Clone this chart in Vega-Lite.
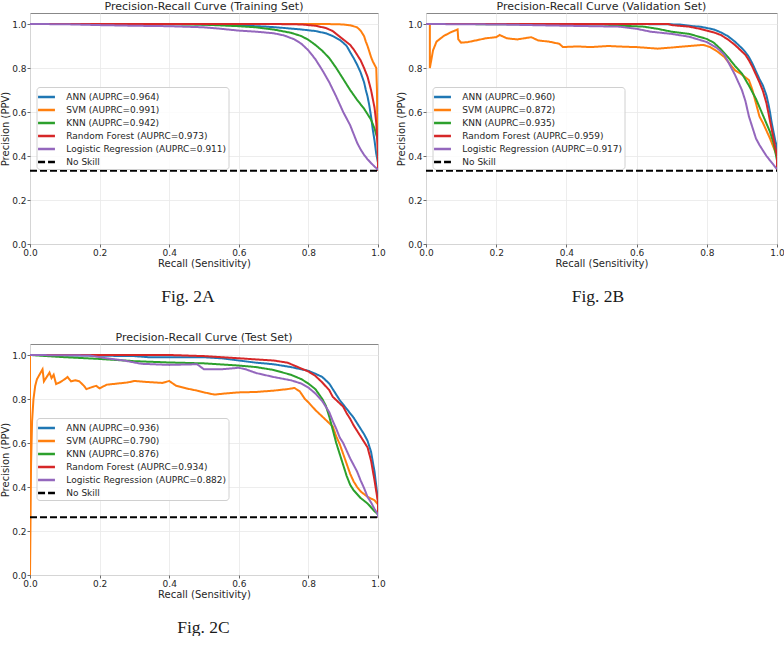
{
  "$schema": "https://vega.github.io/schema/vega-lite/v6.json",
  "background": "white",
  "padding": {"left": 0, "top": 0, "right": 0, "bottom": 0},
  "config": {
    "font": "DejaVu Sans",
    "view": {"stroke": "#888888", "strokeWidth": 1},
    "axis": {
      "domain": false, "grid": true, "gridColor": "#e8e8e8", "gridWidth": 0.8,
      "tickColor": "#444444", "tickSize": 3, "tickWidth": 0.8,
      "labelFont": "DejaVu Sans", "labelFontSize": 9, "labelColor": "#262626", "labelPadding": 1,
      "titleFont": "DejaVu Sans", "titleFontSize": 10, "titleFontWeight": "normal", "titleColor": "#262626", "titlePadding": 1,
      "labelFlush": false, "labelOverlap": false
    },
    "title": {"font": "DejaVu Sans", "fontSize": 11, "fontWeight": "normal", "color": "#262626", "offset": 1},
    "legend": {
      "orient": "none", "legendX": 6.5, "legendY": 74,
      "symbolType": "M-1.3,0H1.3", "symbolSize": 169, "symbolStrokeWidth": 2.5,
      "labelFont": "DejaVu Sans", "labelFontSize": 9, "labelColor": "#262626", "labelOffset": 11.8, "labelLimit": 300,
      "rowPadding": 0, "padding": 2, "strokeColor": "#d0d0d0", "fillColor": "rgba(255,255,255,0.8)", "cornerRadius": 3
    }
  },
  "datasets": {
    "training": [
      {"model": "ANN (AUPRC=0.964)", "recall": 0, "precision": 1},
      {"model": "ANN (AUPRC=0.964)", "recall": 0.3, "precision": 1},
      {"model": "ANN (AUPRC=0.964)", "recall": 0.45, "precision": 0.999},
      {"model": "ANN (AUPRC=0.964)", "recall": 0.55, "precision": 0.996},
      {"model": "ANN (AUPRC=0.964)", "recall": 0.62, "precision": 0.992},
      {"model": "ANN (AUPRC=0.964)", "recall": 0.68, "precision": 0.988},
      {"model": "ANN (AUPRC=0.964)", "recall": 0.73, "precision": 0.982},
      {"model": "ANN (AUPRC=0.964)", "recall": 0.78, "precision": 0.975},
      {"model": "ANN (AUPRC=0.964)", "recall": 0.82, "precision": 0.968},
      {"model": "ANN (AUPRC=0.964)", "recall": 0.85, "precision": 0.958},
      {"model": "ANN (AUPRC=0.964)", "recall": 0.87, "precision": 0.945},
      {"model": "ANN (AUPRC=0.964)", "recall": 0.89, "precision": 0.928},
      {"model": "ANN (AUPRC=0.964)", "recall": 0.9, "precision": 0.915},
      {"model": "ANN (AUPRC=0.964)", "recall": 0.91, "precision": 0.9},
      {"model": "ANN (AUPRC=0.964)", "recall": 0.92, "precision": 0.872},
      {"model": "ANN (AUPRC=0.964)", "recall": 0.93, "precision": 0.845},
      {"model": "ANN (AUPRC=0.964)", "recall": 0.94, "precision": 0.815},
      {"model": "ANN (AUPRC=0.964)", "recall": 0.95, "precision": 0.78},
      {"model": "ANN (AUPRC=0.964)", "recall": 0.96, "precision": 0.735},
      {"model": "ANN (AUPRC=0.964)", "recall": 0.965, "precision": 0.7},
      {"model": "ANN (AUPRC=0.964)", "recall": 0.97, "precision": 0.67},
      {"model": "ANN (AUPRC=0.964)", "recall": 0.975, "precision": 0.63},
      {"model": "ANN (AUPRC=0.964)", "recall": 0.98, "precision": 0.58},
      {"model": "ANN (AUPRC=0.964)", "recall": 0.985, "precision": 0.52},
      {"model": "ANN (AUPRC=0.964)", "recall": 0.99, "precision": 0.47},
      {"model": "ANN (AUPRC=0.964)", "recall": 0.995, "precision": 0.41},
      {"model": "ANN (AUPRC=0.964)", "recall": 1, "precision": 0.37},
      {"model": "ANN (AUPRC=0.964)", "recall": 1, "precision": 0.333},

      {"model": "SVM (AUPRC=0.991)", "recall": 0, "precision": 1},
      {"model": "SVM (AUPRC=0.991)", "recall": 0.85, "precision": 1},
      {"model": "SVM (AUPRC=0.991)", "recall": 0.9, "precision": 0.998},
      {"model": "SVM (AUPRC=0.991)", "recall": 0.92, "precision": 0.994},
      {"model": "SVM (AUPRC=0.991)", "recall": 0.94, "precision": 0.985},
      {"model": "SVM (AUPRC=0.991)", "recall": 0.95, "precision": 0.97},
      {"model": "SVM (AUPRC=0.991)", "recall": 0.96, "precision": 0.945},
      {"model": "SVM (AUPRC=0.991)", "recall": 0.965, "precision": 0.92},
      {"model": "SVM (AUPRC=0.991)", "recall": 0.97, "precision": 0.9},
      {"model": "SVM (AUPRC=0.991)", "recall": 0.975, "precision": 0.875},
      {"model": "SVM (AUPRC=0.991)", "recall": 0.98, "precision": 0.85},
      {"model": "SVM (AUPRC=0.991)", "recall": 0.985, "precision": 0.83},
      {"model": "SVM (AUPRC=0.991)", "recall": 0.99, "precision": 0.815},
      {"model": "SVM (AUPRC=0.991)", "recall": 0.995, "precision": 0.8},
      {"model": "SVM (AUPRC=0.991)", "recall": 0.997, "precision": 0.7},
      {"model": "SVM (AUPRC=0.991)", "recall": 0.998, "precision": 0.55},
      {"model": "SVM (AUPRC=0.991)", "recall": 1, "precision": 0.35},

      {"model": "KNN (AUPRC=0.942)", "recall": 0, "precision": 1},
      {"model": "KNN (AUPRC=0.942)", "recall": 0.4, "precision": 0.999},
      {"model": "KNN (AUPRC=0.942)", "recall": 0.5, "precision": 0.997},
      {"model": "KNN (AUPRC=0.942)", "recall": 0.6, "precision": 0.99},
      {"model": "KNN (AUPRC=0.942)", "recall": 0.65, "precision": 0.985},
      {"model": "KNN (AUPRC=0.942)", "recall": 0.7, "precision": 0.975},
      {"model": "KNN (AUPRC=0.942)", "recall": 0.75, "precision": 0.96},
      {"model": "KNN (AUPRC=0.942)", "recall": 0.78, "precision": 0.945},
      {"model": "KNN (AUPRC=0.942)", "recall": 0.8, "precision": 0.928},
      {"model": "KNN (AUPRC=0.942)", "recall": 0.82, "precision": 0.905},
      {"model": "KNN (AUPRC=0.942)", "recall": 0.84, "precision": 0.878},
      {"model": "KNN (AUPRC=0.942)", "recall": 0.86, "precision": 0.845},
      {"model": "KNN (AUPRC=0.942)", "recall": 0.88, "precision": 0.8},
      {"model": "KNN (AUPRC=0.942)", "recall": 0.9, "precision": 0.75},
      {"model": "KNN (AUPRC=0.942)", "recall": 0.92, "precision": 0.7},
      {"model": "KNN (AUPRC=0.942)", "recall": 0.94, "precision": 0.655},
      {"model": "KNN (AUPRC=0.942)", "recall": 0.96, "precision": 0.615},
      {"model": "KNN (AUPRC=0.942)", "recall": 0.98, "precision": 0.565},
      {"model": "KNN (AUPRC=0.942)", "recall": 0.99, "precision": 0.525},
      {"model": "KNN (AUPRC=0.942)", "recall": 1, "precision": 0.47},
      {"model": "KNN (AUPRC=0.942)", "recall": 1, "precision": 0.333},

      {"model": "Random Forest (AUPRC=0.973)", "recall": 0, "precision": 1},
      {"model": "Random Forest (AUPRC=0.973)", "recall": 0.7, "precision": 1},
      {"model": "Random Forest (AUPRC=0.973)", "recall": 0.78, "precision": 0.998},
      {"model": "Random Forest (AUPRC=0.973)", "recall": 0.82, "precision": 0.992},
      {"model": "Random Forest (AUPRC=0.973)", "recall": 0.85, "precision": 0.982},
      {"model": "Random Forest (AUPRC=0.973)", "recall": 0.87, "precision": 0.968},
      {"model": "Random Forest (AUPRC=0.973)", "recall": 0.88, "precision": 0.955},
      {"model": "Random Forest (AUPRC=0.973)", "recall": 0.9, "precision": 0.93},
      {"model": "Random Forest (AUPRC=0.973)", "recall": 0.92, "precision": 0.905},
      {"model": "Random Forest (AUPRC=0.973)", "recall": 0.93, "precision": 0.885},
      {"model": "Random Forest (AUPRC=0.973)", "recall": 0.94, "precision": 0.86},
      {"model": "Random Forest (AUPRC=0.973)", "recall": 0.95, "precision": 0.835},
      {"model": "Random Forest (AUPRC=0.973)", "recall": 0.96, "precision": 0.8},
      {"model": "Random Forest (AUPRC=0.973)", "recall": 0.97, "precision": 0.76},
      {"model": "Random Forest (AUPRC=0.973)", "recall": 0.975, "precision": 0.73},
      {"model": "Random Forest (AUPRC=0.973)", "recall": 0.98, "precision": 0.7},
      {"model": "Random Forest (AUPRC=0.973)", "recall": 0.985, "precision": 0.66},
      {"model": "Random Forest (AUPRC=0.973)", "recall": 0.99, "precision": 0.62},
      {"model": "Random Forest (AUPRC=0.973)", "recall": 0.995, "precision": 0.55},
      {"model": "Random Forest (AUPRC=0.973)", "recall": 1, "precision": 0.42},
      {"model": "Random Forest (AUPRC=0.973)", "recall": 1, "precision": 0.333},

      {"model": "Logistic Regression (AUPRC=0.911)", "recall": 0, "precision": 1},
      {"model": "Logistic Regression (AUPRC=0.911)", "recall": 0.1, "precision": 0.999},
      {"model": "Logistic Regression (AUPRC=0.911)", "recall": 0.2, "precision": 0.995},
      {"model": "Logistic Regression (AUPRC=0.911)", "recall": 0.3, "precision": 0.992},
      {"model": "Logistic Regression (AUPRC=0.911)", "recall": 0.4, "precision": 0.99},
      {"model": "Logistic Regression (AUPRC=0.911)", "recall": 0.5, "precision": 0.985},
      {"model": "Logistic Regression (AUPRC=0.911)", "recall": 0.55, "precision": 0.978},
      {"model": "Logistic Regression (AUPRC=0.911)", "recall": 0.6, "precision": 0.97},
      {"model": "Logistic Regression (AUPRC=0.911)", "recall": 0.65, "precision": 0.965},
      {"model": "Logistic Regression (AUPRC=0.911)", "recall": 0.7, "precision": 0.958},
      {"model": "Logistic Regression (AUPRC=0.911)", "recall": 0.73, "precision": 0.948},
      {"model": "Logistic Regression (AUPRC=0.911)", "recall": 0.76, "precision": 0.93},
      {"model": "Logistic Regression (AUPRC=0.911)", "recall": 0.78, "precision": 0.91},
      {"model": "Logistic Regression (AUPRC=0.911)", "recall": 0.8, "precision": 0.88},
      {"model": "Logistic Regression (AUPRC=0.911)", "recall": 0.82, "precision": 0.84},
      {"model": "Logistic Regression (AUPRC=0.911)", "recall": 0.84, "precision": 0.79},
      {"model": "Logistic Regression (AUPRC=0.911)", "recall": 0.86, "precision": 0.735},
      {"model": "Logistic Regression (AUPRC=0.911)", "recall": 0.88, "precision": 0.67},
      {"model": "Logistic Regression (AUPRC=0.911)", "recall": 0.9, "precision": 0.6},
      {"model": "Logistic Regression (AUPRC=0.911)", "recall": 0.92, "precision": 0.54},
      {"model": "Logistic Regression (AUPRC=0.911)", "recall": 0.93, "precision": 0.5},
      {"model": "Logistic Regression (AUPRC=0.911)", "recall": 0.94, "precision": 0.46},
      {"model": "Logistic Regression (AUPRC=0.911)", "recall": 0.95, "precision": 0.43},
      {"model": "Logistic Regression (AUPRC=0.911)", "recall": 0.96, "precision": 0.405},
      {"model": "Logistic Regression (AUPRC=0.911)", "recall": 0.97, "precision": 0.385},
      {"model": "Logistic Regression (AUPRC=0.911)", "recall": 0.98, "precision": 0.368},
      {"model": "Logistic Regression (AUPRC=0.911)", "recall": 0.99, "precision": 0.352},
      {"model": "Logistic Regression (AUPRC=0.911)", "recall": 1, "precision": 0.338},

      {"model": "No Skill", "recall": 0, "precision": 0.333},
      {"model": "No Skill", "recall": 1, "precision": 0.333}
    ],
    "validation": [
      {"model": "ANN (AUPRC=0.960)", "recall": 0, "precision": 1},
      {"model": "ANN (AUPRC=0.960)", "recall": 0.6, "precision": 1},
      {"model": "ANN (AUPRC=0.960)", "recall": 0.72, "precision": 0.998},
      {"model": "ANN (AUPRC=0.960)", "recall": 0.76, "precision": 0.99},
      {"model": "ANN (AUPRC=0.960)", "recall": 0.78, "precision": 0.988},
      {"model": "ANN (AUPRC=0.960)", "recall": 0.8, "precision": 0.982},
      {"model": "ANN (AUPRC=0.960)", "recall": 0.82, "precision": 0.975},
      {"model": "ANN (AUPRC=0.960)", "recall": 0.84, "precision": 0.962},
      {"model": "ANN (AUPRC=0.960)", "recall": 0.86, "precision": 0.945},
      {"model": "ANN (AUPRC=0.960)", "recall": 0.88, "precision": 0.92},
      {"model": "ANN (AUPRC=0.960)", "recall": 0.9, "precision": 0.89},
      {"model": "ANN (AUPRC=0.960)", "recall": 0.91, "precision": 0.872},
      {"model": "ANN (AUPRC=0.960)", "recall": 0.92, "precision": 0.85},
      {"model": "ANN (AUPRC=0.960)", "recall": 0.93, "precision": 0.82},
      {"model": "ANN (AUPRC=0.960)", "recall": 0.94, "precision": 0.785},
      {"model": "ANN (AUPRC=0.960)", "recall": 0.95, "precision": 0.75},
      {"model": "ANN (AUPRC=0.960)", "recall": 0.96, "precision": 0.72},
      {"model": "ANN (AUPRC=0.960)", "recall": 0.97, "precision": 0.675},
      {"model": "ANN (AUPRC=0.960)", "recall": 0.975, "precision": 0.64},
      {"model": "ANN (AUPRC=0.960)", "recall": 0.98, "precision": 0.6},
      {"model": "ANN (AUPRC=0.960)", "recall": 0.985, "precision": 0.55},
      {"model": "ANN (AUPRC=0.960)", "recall": 0.99, "precision": 0.51},
      {"model": "ANN (AUPRC=0.960)", "recall": 0.995, "precision": 0.47},
      {"model": "ANN (AUPRC=0.960)", "recall": 1, "precision": 0.44},
      {"model": "ANN (AUPRC=0.960)", "recall": 1, "precision": 0.333},

      {"model": "SVM (AUPRC=0.872)", "recall": 0, "precision": 1},
      {"model": "SVM (AUPRC=0.872)", "recall": 0.011, "precision": 1},
      {"model": "SVM (AUPRC=0.872)", "recall": 0.011, "precision": 0.8},
      {"model": "SVM (AUPRC=0.872)", "recall": 0.02, "precision": 0.88},
      {"model": "SVM (AUPRC=0.872)", "recall": 0.03, "precision": 0.92},
      {"model": "SVM (AUPRC=0.872)", "recall": 0.05, "precision": 0.945},
      {"model": "SVM (AUPRC=0.872)", "recall": 0.07, "precision": 0.962},
      {"model": "SVM (AUPRC=0.872)", "recall": 0.09, "precision": 0.975},
      {"model": "SVM (AUPRC=0.872)", "recall": 0.092, "precision": 0.93},
      {"model": "SVM (AUPRC=0.872)", "recall": 0.1, "precision": 0.915},
      {"model": "SVM (AUPRC=0.872)", "recall": 0.12, "precision": 0.918},
      {"model": "SVM (AUPRC=0.872)", "recall": 0.15, "precision": 0.928},
      {"model": "SVM (AUPRC=0.872)", "recall": 0.17, "precision": 0.935},
      {"model": "SVM (AUPRC=0.872)", "recall": 0.2, "precision": 0.94},
      {"model": "SVM (AUPRC=0.872)", "recall": 0.21, "precision": 0.95},
      {"model": "SVM (AUPRC=0.872)", "recall": 0.23, "precision": 0.935},
      {"model": "SVM (AUPRC=0.872)", "recall": 0.26, "precision": 0.93},
      {"model": "SVM (AUPRC=0.872)", "recall": 0.3, "precision": 0.94},
      {"model": "SVM (AUPRC=0.872)", "recall": 0.32, "precision": 0.925},
      {"model": "SVM (AUPRC=0.872)", "recall": 0.35, "precision": 0.92},
      {"model": "SVM (AUPRC=0.872)", "recall": 0.38, "precision": 0.91},
      {"model": "SVM (AUPRC=0.872)", "recall": 0.39, "precision": 0.895},
      {"model": "SVM (AUPRC=0.872)", "recall": 0.43, "precision": 0.898},
      {"model": "SVM (AUPRC=0.872)", "recall": 0.47, "precision": 0.895},
      {"model": "SVM (AUPRC=0.872)", "recall": 0.52, "precision": 0.9},
      {"model": "SVM (AUPRC=0.872)", "recall": 0.56, "precision": 0.897},
      {"model": "SVM (AUPRC=0.872)", "recall": 0.6, "precision": 0.895},
      {"model": "SVM (AUPRC=0.872)", "recall": 0.66, "precision": 0.888},
      {"model": "SVM (AUPRC=0.872)", "recall": 0.7, "precision": 0.893},
      {"model": "SVM (AUPRC=0.872)", "recall": 0.75, "precision": 0.9},
      {"model": "SVM (AUPRC=0.872)", "recall": 0.79, "precision": 0.905},
      {"model": "SVM (AUPRC=0.872)", "recall": 0.81, "precision": 0.895},
      {"model": "SVM (AUPRC=0.872)", "recall": 0.83, "precision": 0.875},
      {"model": "SVM (AUPRC=0.872)", "recall": 0.85, "precision": 0.85},
      {"model": "SVM (AUPRC=0.872)", "recall": 0.87, "precision": 0.81},
      {"model": "SVM (AUPRC=0.872)", "recall": 0.88, "precision": 0.79},
      {"model": "SVM (AUPRC=0.872)", "recall": 0.9, "precision": 0.77},
      {"model": "SVM (AUPRC=0.872)", "recall": 0.92, "precision": 0.745},
      {"model": "SVM (AUPRC=0.872)", "recall": 0.93, "precision": 0.7},
      {"model": "SVM (AUPRC=0.872)", "recall": 0.94, "precision": 0.64},
      {"model": "SVM (AUPRC=0.872)", "recall": 0.95, "precision": 0.58},
      {"model": "SVM (AUPRC=0.872)", "recall": 0.96, "precision": 0.55},
      {"model": "SVM (AUPRC=0.872)", "recall": 0.97, "precision": 0.515},
      {"model": "SVM (AUPRC=0.872)", "recall": 0.98, "precision": 0.48},
      {"model": "SVM (AUPRC=0.872)", "recall": 0.99, "precision": 0.44},
      {"model": "SVM (AUPRC=0.872)", "recall": 1, "precision": 0.4},
      {"model": "SVM (AUPRC=0.872)", "recall": 1, "precision": 0.34},

      {"model": "KNN (AUPRC=0.935)", "recall": 0, "precision": 1},
      {"model": "KNN (AUPRC=0.935)", "recall": 0.5, "precision": 0.998},
      {"model": "KNN (AUPRC=0.935)", "recall": 0.56, "precision": 0.992},
      {"model": "KNN (AUPRC=0.935)", "recall": 0.62, "precision": 0.988},
      {"model": "KNN (AUPRC=0.935)", "recall": 0.66, "precision": 0.978},
      {"model": "KNN (AUPRC=0.935)", "recall": 0.7, "precision": 0.965},
      {"model": "KNN (AUPRC=0.935)", "recall": 0.75, "precision": 0.955},
      {"model": "KNN (AUPRC=0.935)", "recall": 0.8, "precision": 0.932},
      {"model": "KNN (AUPRC=0.935)", "recall": 0.82, "precision": 0.915},
      {"model": "KNN (AUPRC=0.935)", "recall": 0.84, "precision": 0.885},
      {"model": "KNN (AUPRC=0.935)", "recall": 0.86, "precision": 0.85},
      {"model": "KNN (AUPRC=0.935)", "recall": 0.88, "precision": 0.81},
      {"model": "KNN (AUPRC=0.935)", "recall": 0.9, "precision": 0.775},
      {"model": "KNN (AUPRC=0.935)", "recall": 0.92, "precision": 0.72},
      {"model": "KNN (AUPRC=0.935)", "recall": 0.94, "precision": 0.66},
      {"model": "KNN (AUPRC=0.935)", "recall": 0.96, "precision": 0.585},
      {"model": "KNN (AUPRC=0.935)", "recall": 0.98, "precision": 0.51},
      {"model": "KNN (AUPRC=0.935)", "recall": 0.99, "precision": 0.46},
      {"model": "KNN (AUPRC=0.935)", "recall": 1, "precision": 0.38},
      {"model": "KNN (AUPRC=0.935)", "recall": 1, "precision": 0.333},

      {"model": "Random Forest (AUPRC=0.959)", "recall": 0, "precision": 1},
      {"model": "Random Forest (AUPRC=0.959)", "recall": 0.69, "precision": 1},
      {"model": "Random Forest (AUPRC=0.959)", "recall": 0.7, "precision": 0.995},
      {"model": "Random Forest (AUPRC=0.959)", "recall": 0.75, "precision": 0.988},
      {"model": "Random Forest (AUPRC=0.959)", "recall": 0.78, "precision": 0.978},
      {"model": "Random Forest (AUPRC=0.959)", "recall": 0.8, "precision": 0.97},
      {"model": "Random Forest (AUPRC=0.959)", "recall": 0.82, "precision": 0.962},
      {"model": "Random Forest (AUPRC=0.959)", "recall": 0.84, "precision": 0.95},
      {"model": "Random Forest (AUPRC=0.959)", "recall": 0.86, "precision": 0.93},
      {"model": "Random Forest (AUPRC=0.959)", "recall": 0.88, "precision": 0.905},
      {"model": "Random Forest (AUPRC=0.959)", "recall": 0.9, "precision": 0.875},
      {"model": "Random Forest (AUPRC=0.959)", "recall": 0.91, "precision": 0.86},
      {"model": "Random Forest (AUPRC=0.959)", "recall": 0.92, "precision": 0.835},
      {"model": "Random Forest (AUPRC=0.959)", "recall": 0.93, "precision": 0.805},
      {"model": "Random Forest (AUPRC=0.959)", "recall": 0.94, "precision": 0.77},
      {"model": "Random Forest (AUPRC=0.959)", "recall": 0.95, "precision": 0.735},
      {"model": "Random Forest (AUPRC=0.959)", "recall": 0.96, "precision": 0.695},
      {"model": "Random Forest (AUPRC=0.959)", "recall": 0.97, "precision": 0.64},
      {"model": "Random Forest (AUPRC=0.959)", "recall": 0.975, "precision": 0.6},
      {"model": "Random Forest (AUPRC=0.959)", "recall": 0.98, "precision": 0.56},
      {"model": "Random Forest (AUPRC=0.959)", "recall": 0.985, "precision": 0.52},
      {"model": "Random Forest (AUPRC=0.959)", "recall": 0.99, "precision": 0.48},
      {"model": "Random Forest (AUPRC=0.959)", "recall": 0.995, "precision": 0.44},
      {"model": "Random Forest (AUPRC=0.959)", "recall": 1, "precision": 0.4},
      {"model": "Random Forest (AUPRC=0.959)", "recall": 1, "precision": 0.333},

      {"model": "Logistic Regression (AUPRC=0.917)", "recall": 0, "precision": 1},
      {"model": "Logistic Regression (AUPRC=0.917)", "recall": 0.2, "precision": 0.998},
      {"model": "Logistic Regression (AUPRC=0.917)", "recall": 0.4, "precision": 0.992},
      {"model": "Logistic Regression (AUPRC=0.917)", "recall": 0.55, "precision": 0.988},
      {"model": "Logistic Regression (AUPRC=0.917)", "recall": 0.6, "precision": 0.978},
      {"model": "Logistic Regression (AUPRC=0.917)", "recall": 0.64, "precision": 0.965},
      {"model": "Logistic Regression (AUPRC=0.917)", "recall": 0.7, "precision": 0.955},
      {"model": "Logistic Regression (AUPRC=0.917)", "recall": 0.75, "precision": 0.942},
      {"model": "Logistic Regression (AUPRC=0.917)", "recall": 0.8, "precision": 0.918},
      {"model": "Logistic Regression (AUPRC=0.917)", "recall": 0.83, "precision": 0.89},
      {"model": "Logistic Regression (AUPRC=0.917)", "recall": 0.85, "precision": 0.86},
      {"model": "Logistic Regression (AUPRC=0.917)", "recall": 0.87, "precision": 0.8},
      {"model": "Logistic Regression (AUPRC=0.917)", "recall": 0.88, "precision": 0.77},
      {"model": "Logistic Regression (AUPRC=0.917)", "recall": 0.89, "precision": 0.735},
      {"model": "Logistic Regression (AUPRC=0.917)", "recall": 0.9, "precision": 0.7},
      {"model": "Logistic Regression (AUPRC=0.917)", "recall": 0.91, "precision": 0.65},
      {"model": "Logistic Regression (AUPRC=0.917)", "recall": 0.92, "precision": 0.58},
      {"model": "Logistic Regression (AUPRC=0.917)", "recall": 0.93, "precision": 0.53},
      {"model": "Logistic Regression (AUPRC=0.917)", "recall": 0.94, "precision": 0.48},
      {"model": "Logistic Regression (AUPRC=0.917)", "recall": 0.95, "precision": 0.45},
      {"model": "Logistic Regression (AUPRC=0.917)", "recall": 0.96, "precision": 0.425},
      {"model": "Logistic Regression (AUPRC=0.917)", "recall": 0.97, "precision": 0.4},
      {"model": "Logistic Regression (AUPRC=0.917)", "recall": 0.98, "precision": 0.38},
      {"model": "Logistic Regression (AUPRC=0.917)", "recall": 0.99, "precision": 0.36},
      {"model": "Logistic Regression (AUPRC=0.917)", "recall": 1, "precision": 0.34},

      {"model": "No Skill", "recall": 0, "precision": 0.333},
      {"model": "No Skill", "recall": 1, "precision": 0.333}
    ],
    "test": [
      {"model": "ANN (AUPRC=0.936)", "recall": 0, "precision": 1},
      {"model": "ANN (AUPRC=0.936)", "recall": 0.3, "precision": 0.995},
      {"model": "ANN (AUPRC=0.936)", "recall": 0.34, "precision": 0.99},
      {"model": "ANN (AUPRC=0.936)", "recall": 0.5, "precision": 0.99},
      {"model": "ANN (AUPRC=0.936)", "recall": 0.55, "precision": 0.985},
      {"model": "ANN (AUPRC=0.936)", "recall": 0.6, "precision": 0.975},
      {"model": "ANN (AUPRC=0.936)", "recall": 0.65, "precision": 0.965},
      {"model": "ANN (AUPRC=0.936)", "recall": 0.7, "precision": 0.958},
      {"model": "ANN (AUPRC=0.936)", "recall": 0.75, "precision": 0.945},
      {"model": "ANN (AUPRC=0.936)", "recall": 0.78, "precision": 0.935},
      {"model": "ANN (AUPRC=0.936)", "recall": 0.8, "precision": 0.928},
      {"model": "ANN (AUPRC=0.936)", "recall": 0.82, "precision": 0.915},
      {"model": "ANN (AUPRC=0.936)", "recall": 0.84, "precision": 0.9},
      {"model": "ANN (AUPRC=0.936)", "recall": 0.86, "precision": 0.87},
      {"model": "ANN (AUPRC=0.936)", "recall": 0.88, "precision": 0.82},
      {"model": "ANN (AUPRC=0.936)", "recall": 0.89, "precision": 0.795},
      {"model": "ANN (AUPRC=0.936)", "recall": 0.9, "precision": 0.775},
      {"model": "ANN (AUPRC=0.936)", "recall": 0.91, "precision": 0.755},
      {"model": "ANN (AUPRC=0.936)", "recall": 0.92, "precision": 0.735},
      {"model": "ANN (AUPRC=0.936)", "recall": 0.93, "precision": 0.715},
      {"model": "ANN (AUPRC=0.936)", "recall": 0.94, "precision": 0.69},
      {"model": "ANN (AUPRC=0.936)", "recall": 0.95, "precision": 0.665},
      {"model": "ANN (AUPRC=0.936)", "recall": 0.96, "precision": 0.64},
      {"model": "ANN (AUPRC=0.936)", "recall": 0.97, "precision": 0.61},
      {"model": "ANN (AUPRC=0.936)", "recall": 0.98, "precision": 0.56},
      {"model": "ANN (AUPRC=0.936)", "recall": 0.99, "precision": 0.47},
      {"model": "ANN (AUPRC=0.936)", "recall": 1, "precision": 0.34},
      {"model": "ANN (AUPRC=0.936)", "recall": 1, "precision": 0.263},

      {"model": "SVM (AUPRC=0.790)", "recall": 0, "precision": 1},
      {"model": "SVM (AUPRC=0.790)", "recall": 0, "precision": 0},
      {"model": "SVM (AUPRC=0.790)", "recall": 0.003, "precision": 0.5},
      {"model": "SVM (AUPRC=0.790)", "recall": 0.006, "precision": 0.7},
      {"model": "SVM (AUPRC=0.790)", "recall": 0.01, "precision": 0.8},
      {"model": "SVM (AUPRC=0.790)", "recall": 0.015, "precision": 0.86},
      {"model": "SVM (AUPRC=0.790)", "recall": 0.02, "precision": 0.89},
      {"model": "SVM (AUPRC=0.790)", "recall": 0.027, "precision": 0.91},
      {"model": "SVM (AUPRC=0.790)", "recall": 0.036, "precision": 0.935},
      {"model": "SVM (AUPRC=0.790)", "recall": 0.04, "precision": 0.88},
      {"model": "SVM (AUPRC=0.790)", "recall": 0.05, "precision": 0.905},
      {"model": "SVM (AUPRC=0.790)", "recall": 0.056, "precision": 0.92},
      {"model": "SVM (AUPRC=0.790)", "recall": 0.062, "precision": 0.895},
      {"model": "SVM (AUPRC=0.790)", "recall": 0.068, "precision": 0.91},
      {"model": "SVM (AUPRC=0.790)", "recall": 0.075, "precision": 0.868},
      {"model": "SVM (AUPRC=0.790)", "recall": 0.085, "precision": 0.875},
      {"model": "SVM (AUPRC=0.790)", "recall": 0.1, "precision": 0.89},
      {"model": "SVM (AUPRC=0.790)", "recall": 0.108, "precision": 0.9},
      {"model": "SVM (AUPRC=0.790)", "recall": 0.118, "precision": 0.88},
      {"model": "SVM (AUPRC=0.790)", "recall": 0.13, "precision": 0.885},
      {"model": "SVM (AUPRC=0.790)", "recall": 0.142, "precision": 0.88},
      {"model": "SVM (AUPRC=0.790)", "recall": 0.155, "precision": 0.86},
      {"model": "SVM (AUPRC=0.790)", "recall": 0.162, "precision": 0.845},
      {"model": "SVM (AUPRC=0.790)", "recall": 0.18, "precision": 0.855},
      {"model": "SVM (AUPRC=0.790)", "recall": 0.19, "precision": 0.86},
      {"model": "SVM (AUPRC=0.790)", "recall": 0.2, "precision": 0.848},
      {"model": "SVM (AUPRC=0.790)", "recall": 0.22, "precision": 0.865},
      {"model": "SVM (AUPRC=0.790)", "recall": 0.25, "precision": 0.87},
      {"model": "SVM (AUPRC=0.790)", "recall": 0.28, "precision": 0.875},
      {"model": "SVM (AUPRC=0.790)", "recall": 0.3, "precision": 0.882},
      {"model": "SVM (AUPRC=0.790)", "recall": 0.33, "precision": 0.878},
      {"model": "SVM (AUPRC=0.790)", "recall": 0.36, "precision": 0.875},
      {"model": "SVM (AUPRC=0.790)", "recall": 0.38, "precision": 0.873},
      {"model": "SVM (AUPRC=0.790)", "recall": 0.4, "precision": 0.882},
      {"model": "SVM (AUPRC=0.790)", "recall": 0.42, "precision": 0.86},
      {"model": "SVM (AUPRC=0.790)", "recall": 0.45, "precision": 0.848},
      {"model": "SVM (AUPRC=0.790)", "recall": 0.48, "precision": 0.838},
      {"model": "SVM (AUPRC=0.790)", "recall": 0.5, "precision": 0.83},
      {"model": "SVM (AUPRC=0.790)", "recall": 0.53, "precision": 0.82},
      {"model": "SVM (AUPRC=0.790)", "recall": 0.56, "precision": 0.825},
      {"model": "SVM (AUPRC=0.790)", "recall": 0.6, "precision": 0.83},
      {"model": "SVM (AUPRC=0.790)", "recall": 0.65, "precision": 0.832},
      {"model": "SVM (AUPRC=0.790)", "recall": 0.7, "precision": 0.838},
      {"model": "SVM (AUPRC=0.790)", "recall": 0.74, "precision": 0.845},
      {"model": "SVM (AUPRC=0.790)", "recall": 0.76, "precision": 0.85},
      {"model": "SVM (AUPRC=0.790)", "recall": 0.775, "precision": 0.835},
      {"model": "SVM (AUPRC=0.790)", "recall": 0.79, "precision": 0.8},
      {"model": "SVM (AUPRC=0.790)", "recall": 0.8, "precision": 0.785},
      {"model": "SVM (AUPRC=0.790)", "recall": 0.82, "precision": 0.75},
      {"model": "SVM (AUPRC=0.790)", "recall": 0.84, "precision": 0.72},
      {"model": "SVM (AUPRC=0.790)", "recall": 0.86, "precision": 0.69},
      {"model": "SVM (AUPRC=0.790)", "recall": 0.87, "precision": 0.675},
      {"model": "SVM (AUPRC=0.790)", "recall": 0.88, "precision": 0.63},
      {"model": "SVM (AUPRC=0.790)", "recall": 0.89, "precision": 0.595},
      {"model": "SVM (AUPRC=0.790)", "recall": 0.9, "precision": 0.55},
      {"model": "SVM (AUPRC=0.790)", "recall": 0.91, "precision": 0.505},
      {"model": "SVM (AUPRC=0.790)", "recall": 0.92, "precision": 0.46},
      {"model": "SVM (AUPRC=0.790)", "recall": 0.93, "precision": 0.425},
      {"model": "SVM (AUPRC=0.790)", "recall": 0.94, "precision": 0.4},
      {"model": "SVM (AUPRC=0.790)", "recall": 0.95, "precision": 0.38},
      {"model": "SVM (AUPRC=0.790)", "recall": 0.97, "precision": 0.355},
      {"model": "SVM (AUPRC=0.790)", "recall": 0.99, "precision": 0.34},
      {"model": "SVM (AUPRC=0.790)", "recall": 1, "precision": 0.32},
      {"model": "SVM (AUPRC=0.790)", "recall": 1, "precision": 0.263},

      {"model": "KNN (AUPRC=0.876)", "recall": 0, "precision": 1},
      {"model": "KNN (AUPRC=0.876)", "recall": 0.1, "precision": 0.99},
      {"model": "KNN (AUPRC=0.876)", "recall": 0.2, "precision": 0.982},
      {"model": "KNN (AUPRC=0.876)", "recall": 0.3, "precision": 0.972},
      {"model": "KNN (AUPRC=0.876)", "recall": 0.4, "precision": 0.966},
      {"model": "KNN (AUPRC=0.876)", "recall": 0.5, "precision": 0.962},
      {"model": "KNN (AUPRC=0.876)", "recall": 0.6, "precision": 0.952},
      {"model": "KNN (AUPRC=0.876)", "recall": 0.65, "precision": 0.945},
      {"model": "KNN (AUPRC=0.876)", "recall": 0.7, "precision": 0.932},
      {"model": "KNN (AUPRC=0.876)", "recall": 0.75, "precision": 0.91},
      {"model": "KNN (AUPRC=0.876)", "recall": 0.78, "precision": 0.89},
      {"model": "KNN (AUPRC=0.876)", "recall": 0.8, "precision": 0.87},
      {"model": "KNN (AUPRC=0.876)", "recall": 0.82, "precision": 0.845},
      {"model": "KNN (AUPRC=0.876)", "recall": 0.84, "precision": 0.8},
      {"model": "KNN (AUPRC=0.876)", "recall": 0.85, "precision": 0.77},
      {"model": "KNN (AUPRC=0.876)", "recall": 0.86, "precision": 0.72},
      {"model": "KNN (AUPRC=0.876)", "recall": 0.87, "precision": 0.66},
      {"model": "KNN (AUPRC=0.876)", "recall": 0.88, "precision": 0.6},
      {"model": "KNN (AUPRC=0.876)", "recall": 0.89, "precision": 0.55},
      {"model": "KNN (AUPRC=0.876)", "recall": 0.9, "precision": 0.5},
      {"model": "KNN (AUPRC=0.876)", "recall": 0.91, "precision": 0.45},
      {"model": "KNN (AUPRC=0.876)", "recall": 0.92, "precision": 0.41},
      {"model": "KNN (AUPRC=0.876)", "recall": 0.93, "precision": 0.385},
      {"model": "KNN (AUPRC=0.876)", "recall": 0.95, "precision": 0.35},
      {"model": "KNN (AUPRC=0.876)", "recall": 0.97, "precision": 0.325},
      {"model": "KNN (AUPRC=0.876)", "recall": 0.99, "precision": 0.29},
      {"model": "KNN (AUPRC=0.876)", "recall": 1, "precision": 0.275},
      {"model": "KNN (AUPRC=0.876)", "recall": 1, "precision": 0.263},

      {"model": "Random Forest (AUPRC=0.934)", "recall": 0, "precision": 1},
      {"model": "Random Forest (AUPRC=0.934)", "recall": 0.4, "precision": 1},
      {"model": "Random Forest (AUPRC=0.934)", "recall": 0.5, "precision": 0.995},
      {"model": "Random Forest (AUPRC=0.934)", "recall": 0.6, "precision": 0.985},
      {"model": "Random Forest (AUPRC=0.934)", "recall": 0.65, "precision": 0.98},
      {"model": "Random Forest (AUPRC=0.934)", "recall": 0.7, "precision": 0.975},
      {"model": "Random Forest (AUPRC=0.934)", "recall": 0.74, "precision": 0.965},
      {"model": "Random Forest (AUPRC=0.934)", "recall": 0.77, "precision": 0.945},
      {"model": "Random Forest (AUPRC=0.934)", "recall": 0.8, "precision": 0.925},
      {"model": "Random Forest (AUPRC=0.934)", "recall": 0.82, "precision": 0.905},
      {"model": "Random Forest (AUPRC=0.934)", "recall": 0.84, "precision": 0.875},
      {"model": "Random Forest (AUPRC=0.934)", "recall": 0.86, "precision": 0.84},
      {"model": "Random Forest (AUPRC=0.934)", "recall": 0.87, "precision": 0.81},
      {"model": "Random Forest (AUPRC=0.934)", "recall": 0.88, "precision": 0.795},
      {"model": "Random Forest (AUPRC=0.934)", "recall": 0.9, "precision": 0.765},
      {"model": "Random Forest (AUPRC=0.934)", "recall": 0.91, "precision": 0.735},
      {"model": "Random Forest (AUPRC=0.934)", "recall": 0.92, "precision": 0.71},
      {"model": "Random Forest (AUPRC=0.934)", "recall": 0.93, "precision": 0.68},
      {"model": "Random Forest (AUPRC=0.934)", "recall": 0.94, "precision": 0.655},
      {"model": "Random Forest (AUPRC=0.934)", "recall": 0.95, "precision": 0.63},
      {"model": "Random Forest (AUPRC=0.934)", "recall": 0.96, "precision": 0.605},
      {"model": "Random Forest (AUPRC=0.934)", "recall": 0.97, "precision": 0.58},
      {"model": "Random Forest (AUPRC=0.934)", "recall": 0.98, "precision": 0.52},
      {"model": "Random Forest (AUPRC=0.934)", "recall": 0.99, "precision": 0.43},
      {"model": "Random Forest (AUPRC=0.934)", "recall": 1, "precision": 0.33},
      {"model": "Random Forest (AUPRC=0.934)", "recall": 1, "precision": 0.263},

      {"model": "Logistic Regression (AUPRC=0.882)", "recall": 0, "precision": 1},
      {"model": "Logistic Regression (AUPRC=0.882)", "recall": 0.17, "precision": 0.998},
      {"model": "Logistic Regression (AUPRC=0.882)", "recall": 0.22, "precision": 0.985},
      {"model": "Logistic Regression (AUPRC=0.882)", "recall": 0.27, "precision": 0.975},
      {"model": "Logistic Regression (AUPRC=0.882)", "recall": 0.32, "precision": 0.96},
      {"model": "Logistic Regression (AUPRC=0.882)", "recall": 0.4, "precision": 0.955},
      {"model": "Logistic Regression (AUPRC=0.882)", "recall": 0.48, "precision": 0.958},
      {"model": "Logistic Regression (AUPRC=0.882)", "recall": 0.5, "precision": 0.935},
      {"model": "Logistic Regression (AUPRC=0.882)", "recall": 0.55, "precision": 0.935},
      {"model": "Logistic Regression (AUPRC=0.882)", "recall": 0.6, "precision": 0.942},
      {"model": "Logistic Regression (AUPRC=0.882)", "recall": 0.62, "precision": 0.935},
      {"model": "Logistic Regression (AUPRC=0.882)", "recall": 0.65, "precision": 0.918},
      {"model": "Logistic Regression (AUPRC=0.882)", "recall": 0.7, "precision": 0.9},
      {"model": "Logistic Regression (AUPRC=0.882)", "recall": 0.75, "precision": 0.885},
      {"model": "Logistic Regression (AUPRC=0.882)", "recall": 0.78, "precision": 0.87},
      {"model": "Logistic Regression (AUPRC=0.882)", "recall": 0.8, "precision": 0.852},
      {"model": "Logistic Regression (AUPRC=0.882)", "recall": 0.82, "precision": 0.825},
      {"model": "Logistic Regression (AUPRC=0.882)", "recall": 0.84, "precision": 0.79},
      {"model": "Logistic Regression (AUPRC=0.882)", "recall": 0.86, "precision": 0.74},
      {"model": "Logistic Regression (AUPRC=0.882)", "recall": 0.87, "precision": 0.7},
      {"model": "Logistic Regression (AUPRC=0.882)", "recall": 0.88, "precision": 0.665},
      {"model": "Logistic Regression (AUPRC=0.882)", "recall": 0.89, "precision": 0.625},
      {"model": "Logistic Regression (AUPRC=0.882)", "recall": 0.9, "precision": 0.6},
      {"model": "Logistic Regression (AUPRC=0.882)", "recall": 0.91, "precision": 0.565},
      {"model": "Logistic Regression (AUPRC=0.882)", "recall": 0.92, "precision": 0.53},
      {"model": "Logistic Regression (AUPRC=0.882)", "recall": 0.93, "precision": 0.5},
      {"model": "Logistic Regression (AUPRC=0.882)", "recall": 0.94, "precision": 0.47},
      {"model": "Logistic Regression (AUPRC=0.882)", "recall": 0.95, "precision": 0.43},
      {"model": "Logistic Regression (AUPRC=0.882)", "recall": 0.96, "precision": 0.395},
      {"model": "Logistic Regression (AUPRC=0.882)", "recall": 0.97, "precision": 0.355},
      {"model": "Logistic Regression (AUPRC=0.882)", "recall": 0.98, "precision": 0.33},
      {"model": "Logistic Regression (AUPRC=0.882)", "recall": 0.99, "precision": 0.3},
      {"model": "Logistic Regression (AUPRC=0.882)", "recall": 1, "precision": 0.275},
      {"model": "Logistic Regression (AUPRC=0.882)", "recall": 1, "precision": 0.263},

      {"model": "No Skill", "recall": 0, "precision": 0.263},
      {"model": "No Skill", "recall": 1, "precision": 0.263}
    ]
  },
  "resolve": {"scale": {"color": "independent", "strokeDash": "independent"}, "legend": {"color": "independent", "strokeDash": "independent"}},
  "spacing": 26,
  "vconcat": [
    {
      "spacing": 10,
      "resolve": {"scale": {"color": "independent", "strokeDash": "independent"}, "legend": {"color": "independent", "strokeDash": "independent"}},
      "hconcat": [
        {
          "title": {"text": "Fig. 2A", "orient": "bottom", "anchor": "middle", "font": "Liberation Serif", "fontSize": 17.5, "fontWeight": "normal", "color": "#1a1a1a", "offset": 19, "dx": -5},
          "resolve": {"scale": {"color": "independent", "strokeDash": "independent"}, "legend": {"color": "independent", "strokeDash": "independent"}},
          "vconcat": [
            {
              "width": 348, "height": 231,
              "title": "Precision-Recall Curve (Training Set)",
              "data": {"name": "training"},
              "mark": {"type": "line", "strokeWidth": 2, "clip": true},
              "encoding": {
                "x": {"field": "recall", "type": "quantitative", "scale": {"domain": [0, 1], "nice": false}, "axis": {"title": "Recall (Sensitivity)", "values": [0, 0.2, 0.4, 0.6, 0.8, 1], "format": ".1f"}},
                "y": {"field": "precision", "type": "quantitative", "scale": {"domain": [0, 1.05], "nice": false}, "axis": {"title": "Precision (PPV)", "values": [0, 0.2, 0.4, 0.6, 0.8, 1], "format": ".1f"}},
                "color": {"field": "model", "type": "nominal", "scale": {"domain": ["ANN (AUPRC=0.964)", "SVM (AUPRC=0.991)", "KNN (AUPRC=0.942)", "Random Forest (AUPRC=0.973)", "Logistic Regression (AUPRC=0.911)", "No Skill"], "range": ["#1f77b4", "#ff7f0e", "#2ca02c", "#d62728", "#9467bd", "#000000"]}, "legend": {"title": null}},
                "strokeDash": {"field": "model", "type": "nominal", "scale": {"domain": ["ANN (AUPRC=0.964)", "SVM (AUPRC=0.991)", "KNN (AUPRC=0.942)", "Random Forest (AUPRC=0.973)", "Logistic Regression (AUPRC=0.911)", "No Skill"], "range": [[1, 0], [1, 0], [1, 0], [1, 0], [1, 0], [7, 3]]}, "legend": {"title": null}},
                "order": {"value": null}
              }
            }
          ]
        },
        {
          "title": {"text": "Fig. 2B", "orient": "bottom", "anchor": "middle", "font": "Liberation Serif", "fontSize": 17.5, "fontWeight": "normal", "color": "#1a1a1a", "offset": 19, "dx": 7.5},
          "resolve": {"scale": {"color": "independent", "strokeDash": "independent"}, "legend": {"color": "independent", "strokeDash": "independent"}},
          "vconcat": [
            {
              "width": 351, "height": 231,
              "title": "Precision-Recall Curve (Validation Set)",
              "data": {"name": "validation"},
              "mark": {"type": "line", "strokeWidth": 2, "clip": true},
              "encoding": {
                "x": {"field": "recall", "type": "quantitative", "scale": {"domain": [0, 1], "nice": false}, "axis": {"title": "Recall (Sensitivity)", "values": [0, 0.2, 0.4, 0.6, 0.8, 1], "format": ".1f"}},
                "y": {"field": "precision", "type": "quantitative", "scale": {"domain": [0, 1.05], "nice": false}, "axis": {"title": "Precision (PPV)", "values": [0, 0.2, 0.4, 0.6, 0.8, 1], "format": ".1f"}},
                "color": {"field": "model", "type": "nominal", "scale": {"domain": ["ANN (AUPRC=0.960)", "SVM (AUPRC=0.872)", "KNN (AUPRC=0.935)", "Random Forest (AUPRC=0.959)", "Logistic Regression (AUPRC=0.917)", "No Skill"], "range": ["#1f77b4", "#ff7f0e", "#2ca02c", "#d62728", "#9467bd", "#000000"]}, "legend": {"title": null}},
                "strokeDash": {"field": "model", "type": "nominal", "scale": {"domain": ["ANN (AUPRC=0.960)", "SVM (AUPRC=0.872)", "KNN (AUPRC=0.935)", "Random Forest (AUPRC=0.959)", "Logistic Regression (AUPRC=0.917)", "No Skill"], "range": [[1, 0], [1, 0], [1, 0], [1, 0], [1, 0], [7, 3]]}, "legend": {"title": null}},
                "order": {"value": null}
              }
            }
          ]
        }
      ]
    },
    {
      "resolve": {"scale": {"color": "independent", "strokeDash": "independent"}, "legend": {"color": "independent", "strokeDash": "independent"}},
      "hconcat": [
        {
          "title": {"text": "Fig. 2C", "orient": "bottom", "anchor": "middle", "font": "Liberation Serif", "fontSize": 17.5, "fontWeight": "normal", "color": "#1a1a1a", "offset": 19, "dx": 10.5},
          "resolve": {"scale": {"color": "independent", "strokeDash": "independent"}, "legend": {"color": "independent", "strokeDash": "independent"}},
          "vconcat": [
            {
              "width": 348, "height": 231,
              "title": "Precision-Recall Curve (Test Set)",
              "data": {"name": "test"},
              "mark": {"type": "line", "strokeWidth": 2, "clip": true},
              "encoding": {
                "x": {"field": "recall", "type": "quantitative", "scale": {"domain": [0, 1], "nice": false}, "axis": {"title": "Recall (Sensitivity)", "values": [0, 0.2, 0.4, 0.6, 0.8, 1], "format": ".1f"}},
                "y": {"field": "precision", "type": "quantitative", "scale": {"domain": [0, 1.05], "nice": false}, "axis": {"title": "Precision (PPV)", "values": [0, 0.2, 0.4, 0.6, 0.8, 1], "format": ".1f"}},
                "color": {"field": "model", "type": "nominal", "scale": {"domain": ["ANN (AUPRC=0.936)", "SVM (AUPRC=0.790)", "KNN (AUPRC=0.876)", "Random Forest (AUPRC=0.934)", "Logistic Regression (AUPRC=0.882)", "No Skill"], "range": ["#1f77b4", "#ff7f0e", "#2ca02c", "#d62728", "#9467bd", "#000000"]}, "legend": {"title": null}},
                "strokeDash": {"field": "model", "type": "nominal", "scale": {"domain": ["ANN (AUPRC=0.936)", "SVM (AUPRC=0.790)", "KNN (AUPRC=0.876)", "Random Forest (AUPRC=0.934)", "Logistic Regression (AUPRC=0.882)", "No Skill"], "range": [[1, 0], [1, 0], [1, 0], [1, 0], [1, 0], [7, 3]]}, "legend": {"title": null}},
                "order": {"value": null}
              }
            }
          ]
        }
      ]
    }
  ]
}
